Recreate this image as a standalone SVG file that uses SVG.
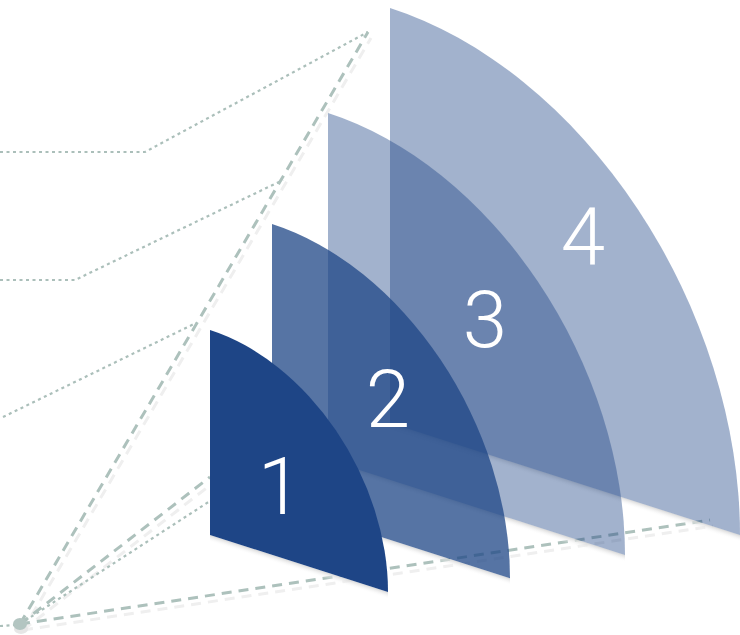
<svg xmlns="http://www.w3.org/2000/svg" width="740" height="635" viewBox="0 0 740 635">
  <defs>
    <linearGradient id="shd" x1="0" y1="0" x2="0" y2="1">
      <stop offset="0" stop-color="#d4d4d4" stop-opacity="0.9"/>
      <stop offset="1" stop-color="#ffffff" stop-opacity="0"/>
    </linearGradient>
  </defs>
  <style>
    .dot{fill:none;stroke:#abbfba;stroke-width:2.2;stroke-dasharray:3 3.5}
    .dash{fill:none;stroke:#adc1bc;stroke-width:3;stroke-dasharray:10 7}
    .sdash{fill:none;stroke:#efefef;stroke-width:3;stroke-dasharray:10 7}
    .sh{fill:#1e4586}
    .num{fill:#ffffff;font-family:Roboto,"Liberation Sans",sans-serif;font-weight:300;font-size:80px;text-anchor:middle}
    .strip{fill:url(#shd)}
  </style>
  <rect width="740" height="635" fill="#ffffff"/>
  <g id="connectors">
    <g transform="translate(3,6)">
      <path class="sdash" d="M20,624 L368,32"/>
      <path class="sdash" d="M20,624 L210,477"/>
      <path class="sdash" d="M20,624 L710,520"/>
    </g>
    <path class="dot" d="M0,152 H145 L368,32"/>
    <path class="dot" d="M0,280 H75 L283,180"/>
    <path class="dot" d="M-10,417 H3 L196,323"/>
    <path class="dot" d="M20,624 L210,501"/>
    <path class="dot" d="M0,626 L14,625"/>
    <path class="dash" d="M20,624 L368,32"/>
    <path class="dash" d="M20,624 L210,477"/>
    <path class="dash" d="M20,624 L710,520"/>
  </g>
  <g id="origin">
    <ellipse cx="21" cy="629" rx="7" ry="5" fill="#e6e6e6"/>
    <ellipse cx="20" cy="624" rx="7" ry="6" fill="#b3c5c1"/>
  </g>
  <g id="node4" transform="matrix(1,0.32,0,1,390,423)">
    <path class="strip" d="M0,0 L350,0 L350,7 L0,7 Z"/>
    <path class="sh" fill-opacity="0.41" d="M0,-415 A350,415 0 0 1 350,0 L0,0 Z"/>
  </g>
  <g id="node3" transform="matrix(1,0.32,0,1,328,460)">
    <path class="strip" d="M0,0 L297,0 L297,7 L0,7 Z"/>
    <path class="sh" fill-opacity="0.41" d="M0,-347 A297,347 0 0 1 297,0 L0,0 Z"/>
  </g>
  <g id="node2" transform="matrix(1,0.32,0,1,272,502)">
    <path class="strip" d="M0,0 L238,0 L238,7 L0,7 Z"/>
    <path class="sh" fill-opacity="0.75" d="M0,-278 A238,278 0 0 1 238,0 L0,0 Z"/>
  </g>
  <g id="node1" transform="matrix(1,0.32,0,1,210,535)">
    <path class="strip" d="M0,0 L178,0 L178,7 L0,7 Z"/>
    <path class="sh" d="M0,-205 A178,205 0 0 1 178,0 L0,0 Z"/>
  </g>
  <g id="labels">
    <text class="num" x="280" y="514">1</text>
    <text class="num" x="388" y="427">2</text>
    <text class="num" x="485" y="347">3</text>
    <text class="num" x="583" y="264">4</text>
  </g>
</svg>
